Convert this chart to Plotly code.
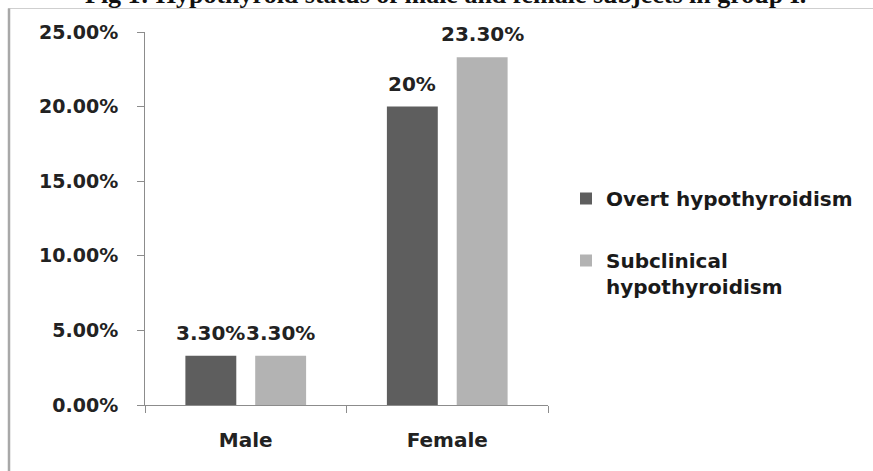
import plotly.graph_objects as go

# Hypothyroid status by sex, group I
categories = ["Male", "Female"]
series_names = ["Overt hypothyroidism", "Subclinical<br>hypothyroidism"]
overt = [3.3, 20.0]
subclinical = [3.3, 23.3]
overt_labels = ["3.30%", "20%"]
subclinical_labels = ["3.30%", "23.30%"]
y_ticks = [0, 5, 10, 15, 20, 25]
y_tick_labels = ["0.00%", "5.00%", "10.00%", "15.00%", "20.00%", "25.00%"]

colors = ["#5e5e5e", "#b3b3b3"]
font_family = "DejaVu Sans, sans-serif"

W, H = 873, 471
L, R, T, B = 145, 325, 32, 66
plot_w = W - L - R
plot_h = H - T - B


def px_to_paper_x(px):
    return (px - L) / plot_w


def px_to_paper_y(py):
    return (H - B - py) / plot_h


fig = go.Figure()
series = [
    (series_names[0], overt, overt_labels, colors[0], "g1"),
    (series_names[1], subclinical, subclinical_labels, colors[1], "g2"),
]
for name, vals, _, col, grp in series:
    fig.add_trace(go.Bar(
        name=name,
        x=categories,
        y=vals,
        marker=dict(color=col, line=dict(width=0)),
        legendgroup=grp,
        hoverinfo="skip",
    ))

# value labels above each bar
annotations = []
for i, (name, vals, labels, col, grp) in enumerate(series):
    shift = -35 if i == 0 else 35
    for cat, v, lab in zip(categories, vals, labels):
        annotations.append(dict(
            x=cat, y=v, xref="x", yref="y",
            text=lab, showarrow=False,
            xanchor="center", yanchor="bottom",
            xshift=shift, yshift=9,
            font=dict(family=font_family, size=20, color="#222222", weight="bold"),
        ))

# figure caption at the top edge
annotations.append(dict(
    x=px_to_paper_x(445), y=px_to_paper_y(11), xref="paper", yref="paper",
    text="Fig 1: Hypothyroid status of male and female subjects in group I.",
    showarrow=False, xanchor="center", yanchor="bottom",
    font=dict(family="Times New Roman, Liberation Serif, serif", size=26,
              color="#111111", weight="bold"),
))

shapes = [
    # frame: top rule and left rule
    dict(type="line", xref="paper", yref="paper",
         x0=px_to_paper_x(8), x1=px_to_paper_x(873),
         y0=px_to_paper_y(8.5), y1=px_to_paper_y(8.5),
         line=dict(color="#cfcfcf", width=1.2)),
    dict(type="line", xref="paper", yref="paper",
         x0=px_to_paper_x(9), x1=px_to_paper_x(9),
         y0=px_to_paper_y(8.5), y1=px_to_paper_y(471),
         line=dict(color="#a8a8a8", width=2.5)),
]

fig.update_layout(
    width=W, height=H,
    margin=dict(l=L, r=R, t=T, b=B, pad=0),
    paper_bgcolor="white", plot_bgcolor="white",
    barmode="group", bargap=0.307, bargroupgap=0.271,
    showlegend=True,
    legend=dict(
        x=px_to_paper_x(566), y=px_to_paper_y(179),
        xanchor="left", yanchor="top",
        font=dict(family=font_family, size=20, color="#1a1a1a", weight="bold"),
        valign="top", tracegroupgap=33,
        bgcolor="rgba(0,0,0,0)",
    ),
    annotations=annotations,
    shapes=shapes,
)

fig.update_yaxes(
    range=[0, 25], tickvals=y_ticks, ticktext=y_tick_labels,
    showgrid=False, zeroline=False,
    showline=True, linecolor="#8c8c8c", linewidth=1,
    ticks="outside", ticklen=7, tickcolor="#8c8c8c",
    ticklabelstandoff=15,
    tickfont=dict(family=font_family, size=19, color="#222222", weight="bold"),
)
fig.update_xaxes(
    showgrid=False, zeroline=False,
    showline=True, linecolor="#8c8c8c", linewidth=1,
    ticks="outside", ticklen=7, tickcolor="#8c8c8c", tickson="boundaries",
    ticklabelstandoff=17,
    tickfont=dict(family=font_family, size=20, color="#222222", weight="bold"),
)

fig.write_html("out.html")
